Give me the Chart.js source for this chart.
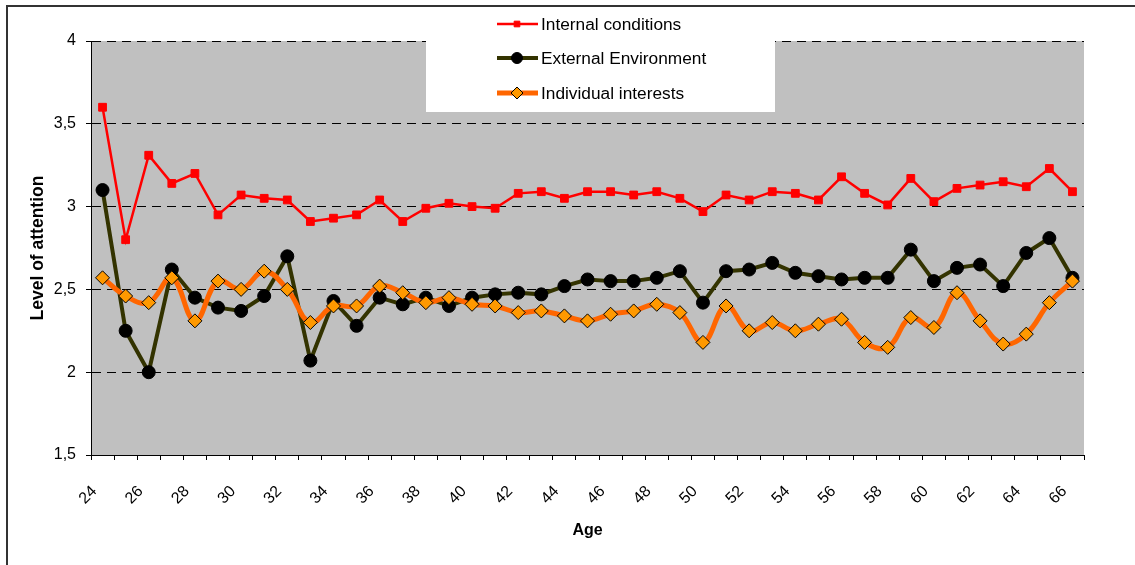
<!DOCTYPE html>
<html><head><meta charset="utf-8">
<script src="https://cdn.jsdelivr.net/npm/chart.js@4/dist/chart.umd.min.js"></script>
<style>html,body{margin:0;padding:0;background:#fff;}#wrap{width:1135px;height:565px;position:relative;}</style>
</head><body><div id="wrap"><canvas id="c" width="1135" height="565"></canvas></div>
<script>
const ages = [24,25,26,27,28,29,30,31,32,33,34,35,36,37,38,39,40,41,42,43,44,45,46,47,48,49,50,51,52,53,54,55,56,57,58,59,60,61,62,63,64,65,66];
const xTickLabels = ['24','26','28','30','32','34','36','38','40','42','44','46','48','50','52','54','56','58','60','62','64','66'];
const yTickValues = [1.5,2,2.5,3,3.5,4];
const yTickLabels = ['1,5','2','2,5','3','3,5','4'];
const seriesNames = ['Internal conditions','External Environment','Individual interests'];
const internalConditions = [3.60,2.80,3.31,3.14,3.20,2.95,3.07,3.05,3.04,2.91,2.93,2.95,3.04,2.91,2.99,3.02,3.00,2.99,3.08,3.09,3.05,3.09,3.09,3.07,3.09,3.05,2.97,3.07,3.04,3.09,3.08,3.04,3.18,3.08,3.01,3.17,3.03,3.11,3.13,3.15,3.12,3.23,3.09];
const externalEnvironment = [3.10,2.25,2.00,2.62,2.45,2.39,2.37,2.46,2.70,2.07,2.43,2.28,2.45,2.41,2.45,2.40,2.45,2.47,2.48,2.47,2.52,2.56,2.55,2.55,2.57,2.61,2.42,2.61,2.62,2.66,2.60,2.58,2.56,2.57,2.57,2.74,2.55,2.63,2.65,2.52,2.72,2.81,2.57];
const individualInterests = [2.57,2.46,2.42,2.57,2.31,2.55,2.50,2.61,2.50,2.30,2.40,2.40,2.52,2.48,2.42,2.45,2.41,2.40,2.36,2.37,2.34,2.31,2.35,2.37,2.41,2.36,2.18,2.40,2.25,2.30,2.25,2.29,2.32,2.18,2.15,2.33,2.27,2.48,2.31,2.17,2.23,2.42,2.55];

Chart.defaults.font.family = "'Liberation Sans', Arial, sans-serif";
Chart.defaults.font.size = 16;
Chart.defaults.color = '#000';

const bgPlugin = {
  id: 'bg',
  beforeDraw(chart) {
    const {ctx, chartArea: a} = chart;
    ctx.save();
    ctx.fillStyle = '#C0C0C0';
    ctx.fillRect(a.left, a.top, a.right - a.left, a.bottom - a.top);
    ctx.restore();
  },
  afterDraw(chart) {
    const ctx = chart.ctx;
    ctx.save();
    // legend box
    ctx.fillStyle = '#fff';
    ctx.fillRect(426, 8, 349, 104);
    const rows = [24, 58, 93];
    const legendRadius = [4, 5.5, 6];
    chart.data.datasets.forEach((ds, i) => {
      const y = rows[i];
      ctx.strokeStyle = ds.borderColor;
      ctx.lineWidth = ds.borderWidth;
      ctx.beginPath(); ctx.moveTo(497, y); ctx.lineTo(538, y); ctx.stroke();
      ctx.fillStyle = ds.pointBackgroundColor;
      ctx.strokeStyle = ds.pointBorderColor;
      ctx.lineWidth = ds.pointBorderWidth;
      Chart.helpers.drawPoint(ctx, {pointStyle: ds.pointStyle, radius: legendRadius[i], rotation: 0, borderWidth: ds.pointBorderWidth}, 517, y);
      ctx.fillStyle = '#000';
      ctx.font = "17.3px 'Liberation Sans', Arial, sans-serif";
      ctx.textBaseline = 'middle';
      ctx.textAlign = 'left';
      ctx.fillText(ds.label, 541, y + 1);
    });
    // outer border
    ctx.strokeStyle = '#333';
    ctx.lineWidth = 2;
    ctx.strokeRect(7, 6, 1300, 700);
    ctx.restore();
  }
};

new Chart(document.getElementById('c'), {
  type: 'line',
  data: {
    labels: ages,
    datasets: [
      {label: seriesNames[0], data: internalConditions, borderColor: '#FF0000', borderWidth: 2.5,
       pointStyle: 'rect', pointRadius: 5.5, pointBackgroundColor: '#FF0000', pointBorderColor: '#FF0000', pointBorderWidth: 1, tension: 0, order: 3},
      {label: seriesNames[1], data: externalEnvironment, borderColor: '#333300', borderWidth: 4,
       pointStyle: 'circle', pointRadius: 6.5, pointBackgroundColor: '#000', pointBorderColor: '#000', pointBorderWidth: 1, tension: 0, order: 2},
      {label: seriesNames[2], data: individualInterests, borderColor: '#FF6600', borderWidth: 5,
       pointStyle: 'rectRot', pointRadius: 7, pointBackgroundColor: '#FF9900', pointBorderColor: '#000', pointBorderWidth: 1, tension: 0.4, order: 1}
    ]
  },
  options: {
    responsive: false,
    animation: false,
    layout: {padding: {top: 41, right: 51, left: 0, bottom: 0}},
    plugins: {legend: {display: false}, tooltip: {enabled: false}},
    scales: {
      x: {
        offset: true,
        grid: {offset: true, drawOnChartArea: false, color: '#000', tickLength: 5, tickColor: '#000'},
        border: {color: '#000', width: 1},
        ticks: {
          autoSkip: false, maxRotation: 45, minRotation: 45, padding: 22, labelOffset: -8,
          callback: function(v, i) { const s = String(ages[i]); return xTickLabels.includes(s) ? s : ''; }
        },
        title: {display: true, text: 'Age', font: {weight: 'bold', size: 16}, padding: {top: 25, bottom: 25}},
        afterFit(s) { s.height = 110; }
      },
      y: {
        min: 1.5, max: 4,
        afterBuildTicks(s) { s.ticks = yTickValues.map(v => ({value: v})); },
        ticks: {padding: 10, callback: function(v) { const k = yTickValues.indexOf(v); return k >= 0 ? yTickLabels[k] : ''; }},
        grid: {color: '#000', tickLength: 5, tickColor: '#000', tickBorderDash: []},
        border: {color: '#000', width: 1, dash: [9, 6]},
        title: {display: true, text: 'Level of attention', font: {weight: 'bold', size: 17.5}, padding: {top: 28, bottom: 28}},
        afterFit(s) { s.width = 91; }
      }
    }
  },
  plugins: [bgPlugin]
});
</script>
</body></html>
